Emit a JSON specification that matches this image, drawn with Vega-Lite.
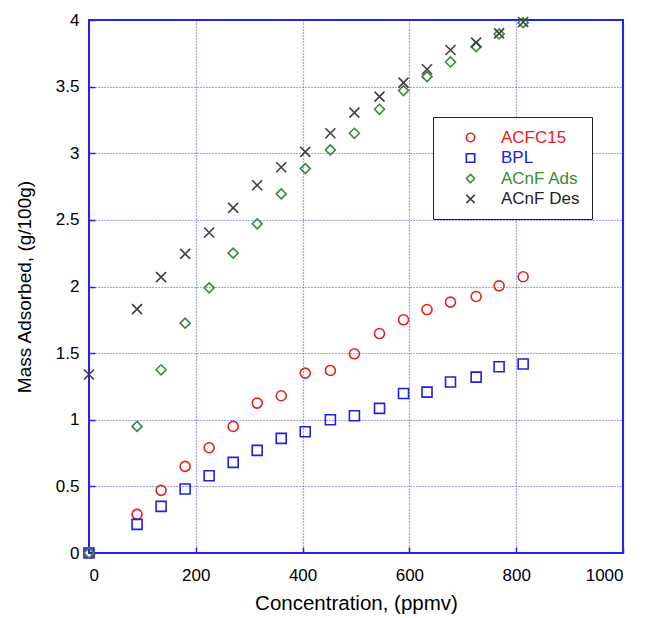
{
  "$schema": "https://vega.github.io/schema/vega-lite/v6.json",
  "width": 534,
  "height": 533,
  "autosize": {"type": "none"},
  "padding": {"left": 89, "top": 20, "right": 31, "bottom": 65},
  "background": "white",
  "config": {
    "font": "Liberation Sans",
    "view": {"stroke": "#1f1fff", "strokeWidth": 2},
    "axis": {
      "domain": false,
      "grid": true,
      "gridColor": "#3030ff",
      "gridDash": [1, 2],
      "gridOpacity": 0.9,
      "gridWidth": 1.2,
      "ticks": true,
      "tickColor": "#1f1fff",
      "tickSize": -6,
      "tickWidth": 1.5,
      "labelFont": "Liberation Sans",
      "labelFontSize": 17,
      "labelColor": "black",
      "titleFont": "Liberation Sans",
      "titleFontSize": 19,
      "titleFontWeight": "normal",
      "titleColor": "black"
    }
  },
  "data": {
    "values": [
      {"series": "ACFC15", "conc": 0, "mass": 0},
      {"series": "ACFC15", "conc": 90, "mass": 0.29},
      {"series": "ACFC15", "conc": 135, "mass": 0.47},
      {"series": "ACFC15", "conc": 180, "mass": 0.65},
      {"series": "ACFC15", "conc": 225, "mass": 0.79},
      {"series": "ACFC15", "conc": 270, "mass": 0.95},
      {"series": "ACFC15", "conc": 315, "mass": 1.125},
      {"series": "ACFC15", "conc": 360, "mass": 1.18},
      {"series": "ACFC15", "conc": 405, "mass": 1.35},
      {"series": "ACFC15", "conc": 452, "mass": 1.37},
      {"series": "ACFC15", "conc": 497, "mass": 1.495},
      {"series": "ACFC15", "conc": 544, "mass": 1.647},
      {"series": "ACFC15", "conc": 589, "mass": 1.75},
      {"series": "ACFC15", "conc": 633, "mass": 1.827},
      {"series": "ACFC15", "conc": 677, "mass": 1.883},
      {"series": "ACFC15", "conc": 725, "mass": 1.925},
      {"series": "ACFC15", "conc": 768, "mass": 2.005},
      {"series": "ACFC15", "conc": 813, "mass": 2.073},
      {"series": "BPL", "conc": 0, "mass": 0},
      {"series": "BPL", "conc": 90, "mass": 0.215},
      {"series": "BPL", "conc": 135, "mass": 0.35},
      {"series": "BPL", "conc": 180, "mass": 0.48},
      {"series": "BPL", "conc": 225, "mass": 0.58},
      {"series": "BPL", "conc": 270, "mass": 0.68},
      {"series": "BPL", "conc": 315, "mass": 0.77},
      {"series": "BPL", "conc": 360, "mass": 0.86},
      {"series": "BPL", "conc": 405, "mass": 0.91},
      {"series": "BPL", "conc": 452, "mass": 1.0},
      {"series": "BPL", "conc": 497, "mass": 1.03},
      {"series": "BPL", "conc": 544, "mass": 1.085},
      {"series": "BPL", "conc": 589, "mass": 1.197},
      {"series": "BPL", "conc": 633, "mass": 1.207},
      {"series": "BPL", "conc": 677, "mass": 1.283},
      {"series": "BPL", "conc": 725, "mass": 1.32},
      {"series": "BPL", "conc": 768, "mass": 1.398},
      {"series": "BPL", "conc": 813, "mass": 1.418},
      {"series": "ACnF Ads", "conc": 0, "mass": 0},
      {"series": "ACnF Ads", "conc": 90, "mass": 0.95},
      {"series": "ACnF Ads", "conc": 135, "mass": 1.375},
      {"series": "ACnF Ads", "conc": 180, "mass": 1.725},
      {"series": "ACnF Ads", "conc": 225, "mass": 1.99},
      {"series": "ACnF Ads", "conc": 270, "mass": 2.25},
      {"series": "ACnF Ads", "conc": 315, "mass": 2.47},
      {"series": "ACnF Ads", "conc": 360, "mass": 2.695},
      {"series": "ACnF Ads", "conc": 405, "mass": 2.885},
      {"series": "ACnF Ads", "conc": 452, "mass": 3.025},
      {"series": "ACnF Ads", "conc": 497, "mass": 3.15},
      {"series": "ACnF Ads", "conc": 544, "mass": 3.33},
      {"series": "ACnF Ads", "conc": 589, "mass": 3.47},
      {"series": "ACnF Ads", "conc": 633, "mass": 3.575},
      {"series": "ACnF Ads", "conc": 677, "mass": 3.685},
      {"series": "ACnF Ads", "conc": 725, "mass": 3.8},
      {"series": "ACnF Ads", "conc": 768, "mass": 3.895},
      {"series": "ACnF Ads", "conc": 813, "mass": 3.98},
      {"series": "ACnF Des", "conc": 0, "mass": 1.34},
      {"series": "ACnF Des", "conc": 90, "mass": 1.83},
      {"series": "ACnF Des", "conc": 135, "mass": 2.07},
      {"series": "ACnF Des", "conc": 180, "mass": 2.245},
      {"series": "ACnF Des", "conc": 225, "mass": 2.405},
      {"series": "ACnF Des", "conc": 270, "mass": 2.59},
      {"series": "ACnF Des", "conc": 315, "mass": 2.76},
      {"series": "ACnF Des", "conc": 360, "mass": 2.895},
      {"series": "ACnF Des", "conc": 405, "mass": 3.01},
      {"series": "ACnF Des", "conc": 452, "mass": 3.15},
      {"series": "ACnF Des", "conc": 497, "mass": 3.305},
      {"series": "ACnF Des", "conc": 544, "mass": 3.425},
      {"series": "ACnF Des", "conc": 589, "mass": 3.53},
      {"series": "ACnF Des", "conc": 633, "mass": 3.63},
      {"series": "ACnF Des", "conc": 677, "mass": 3.775},
      {"series": "ACnF Des", "conc": 725, "mass": 3.83},
      {"series": "ACnF Des", "conc": 768, "mass": 3.9},
      {"series": "ACnF Des", "conc": 813, "mass": 3.985}
    ]
  },
  "mark": {"type": "point", "filled": false, "size": 100, "strokeWidth": 1.6, "opacity": 1, "clip": false},
  "encoding": {
    "x": {
      "field": "conc",
      "type": "quantitative",
      "scale": {"domain": [0, 1000], "nice": false, "zero": false},
      "axis": {"title": "Concentration, (ppmv)", "titleFontSize": 20.5, "values": [0, 200, 400, 600, 800, 1000], "format": "d", "labelPadding": 20, "titlePadding": 10}
    },
    "y": {
      "field": "mass",
      "type": "quantitative",
      "scale": {"domain": [0, 4], "nice": false, "zero": false},
      "axis": {"title": "Mass Adsorbed, (g/100g)", "values": [0, 0.5, 1, 1.5, 2, 2.5, 3, 3.5, 4], "format": "~g", "labelPadding": 16, "titlePadding": 21}
    },
    "color": {
      "field": "series",
      "type": "nominal",
      "scale": {
        "domain": ["ACFC15", "BPL", "ACnF Ads", "ACnF Des"],
        "range": ["#e82020", "#2020e0", "#3a8a3a", "#404040"]
      },
      "legend": {
        "title": null,
        "orient": "none",
        "legendX": 344,
        "legendY": 97,
        "strokeColor": "#222222",
        "fillColor": "white",
        "padding": 12,
        "symbolOffset": 17,
        "symbolSize": 70,
        "symbolStrokeWidth": 1.6,
        "labelOffset": 22,
        "labelFontSize": 17,
        "labelFont": "Liberation Sans",
        "labelColor": {"expr": "datum.value == 'ACFC15' ? '#e82020' : datum.value == 'BPL' ? '#2020e0' : datum.value == 'ACnF Ads' ? '#3a8a3a' : '#222222'"},
        "rowPadding": 2.5,
        "encode": {
          "legend": {"update": {"strokeWidth": {"value": 2}}}
        }
      }
    },
    "shape": {
      "field": "series",
      "type": "nominal",
      "scale": {
        "domain": ["ACFC15", "BPL", "ACnF Ads", "ACnF Des"],
        "range": ["circle", "square", "diamond", "M-1,-1L1,1M1,-1L-1,1"]
      },
      "legend": null
    }
  }
}
